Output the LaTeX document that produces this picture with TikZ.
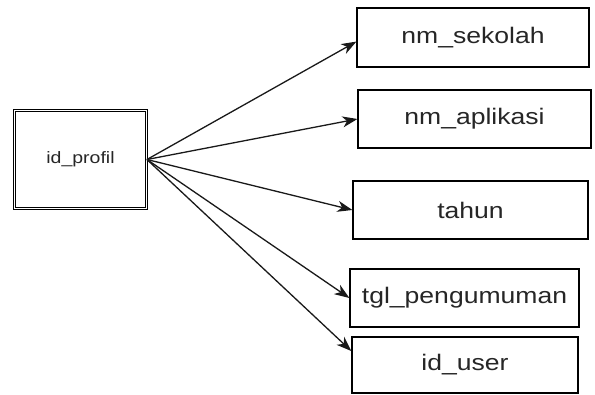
\documentclass[tikz,border=0pt]{standalone}
\usepackage{fontspec}
\setmainfont{Liberation Sans}
\newfontfamily\boxfont[FakeStretch=1.18]{Liberation Sans}
\usetikzlibrary{positioning, arrows.meta}

\tikzset{
  attr/.style={draw, line width=1.2pt, inner sep=0pt, font=\boxfont\fontsize{22.5}{26}\selectfont, text=black!85},
  key/.style={draw, double, double distance=1.6pt, line width=0.9pt, inner sep=0pt, font=\boxfont\fontsize{16.5}{20}\selectfont, text=black!85},
  link/.style={-{Stealth[length=15pt,width=11pt,inset=4.5pt]}, line width=1.3pt, black!90}
}

\begin{document}
\begin{tikzpicture}[x=1pt, y=-1pt]
  \useasboundingbox (0,0) rectangle (595,394);
  \node[key, minimum width=132pt, minimum height=98pt] (profil) at (80.5,159.5) {id\_profil};

  \node[attr, minimum width=232pt, minimum height=59pt] (sekolah) at (473,37.5) {nm\_sekolah};
  \node[attr, minimum width=233pt, minimum height=58pt] (aplikasi) at (474.5,119) {nm\_aplikasi};
  \node[attr, minimum width=235pt, minimum height=58pt] (tahun) at (470.5,210) {tahun};
  \node[attr, minimum width=229pt, minimum height=58pt] (tgl) at (464.5,298) {tgl\_pengumuman};
  \node[attr, minimum width=226pt, minimum height=56pt] (user) at (465,365) {id\_user};

  \draw[link] (profil.east) -- (sekolah.182);
  \draw[link] (profil.east) -- (aplikasi.west);
  \draw[link] (profil.east) -- (tahun.west);
  \draw[link] (profil.east) -- (tgl.west);
  \draw[link] (profil.east) -- (user.173);
\end{tikzpicture}
\end{document}
